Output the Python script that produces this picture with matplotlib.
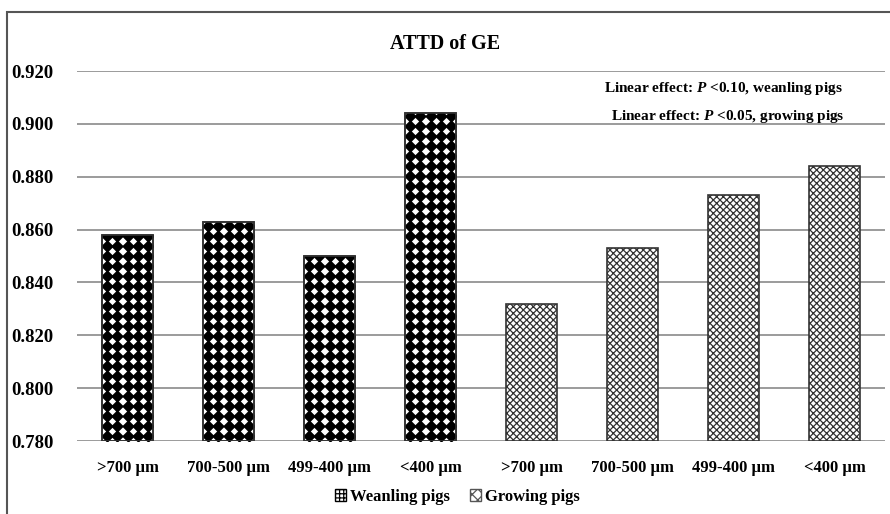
import numpy as np
import matplotlib
matplotlib.use("Agg")
import matplotlib.pyplot as plt
from matplotlib.patches import Rectangle, Patch

plt.rcParams['font.family'] = ['Liberation Serif', 'DejaVu Serif']
plt.rcParams['font.weight'] = 'bold'
plt.rcParams['mathtext.fontset'] = 'custom'
plt.rcParams['mathtext.it'] = 'Liberation Serif:italic:bold'
plt.rcParams['mathtext.rm'] = 'Liberation Serif:bold'
plt.rcParams['hatch.color'] = '#555555'
plt.rcParams['hatch.linewidth'] = 0.9

sizes = [">700 \u00b5m", "700-500 \u00b5m", "499-400 \u00b5m", "<400 \u00b5m"]
weanling = [0.858, 0.863, 0.850, 0.904]
growing = [0.832, 0.853, 0.873, 0.884]
yticks = [0.780, 0.800, 0.820, 0.840, 0.860, 0.880, 0.900, 0.920]

fig = plt.figure(figsize=(8.9, 5.14), dpi=100)
ax = fig.add_axes([77/890, 1-441/514, 808/890, 370/514])

labels = sizes + sizes
x = np.arange(len(labels))
w = 0.5
ymin, ymax = 0.78, 0.92

for yt in yticks:
    ax.axhline(yt, color='#8a8a8a', lw=1.2, zorder=0)

# weanling bars with diamond texture
wb = ax.bar(x[:4], np.array(weanling) - ymin, w, bottom=ymin, color='white',
            edgecolor='#333333', lw=1.2, zorder=2)
dx = w / 5
dy = 10 / 2643.0
for rect in wb:
    x0 = rect.get_x()
    top = rect.get_y() + rect.get_height()
    xs = x0 + dx * (np.arange(5) + 0.5)
    ys = np.arange(ymin + dy / 2, top + dy, dy)
    gx, gy = np.meshgrid(xs, ys)
    sc = ax.scatter(gx.ravel(), gy.ravel(), marker='D', s=42, color='black',
                    lw=0, zorder=3)
    sc.set_clip_path(rect)
    ax.add_patch(Rectangle((rect.get_x(), rect.get_y()), rect.get_width(), rect.get_height(),
                           fill=False, edgecolor='#333333', lw=1.2, zorder=4))

ax.bar(x[4:], np.array(growing) - ymin, w, bottom=ymin, color='white',
       edgecolor='#333333', hatch='xxxxx', lw=1.2, zorder=2)

ax.set_xlim(-0.5, len(labels) - 0.5)
ax.set_ylim(ymin, ymax)
ax.set_yticks(yticks)
ax.set_yticklabels(["%.3f" % v for v in yticks], fontsize=13.5, fontweight='bold')
ax.set_xticks(x)
ax.set_xticklabels(labels, fontsize=12, fontweight='bold')
ax.tick_params(axis='x', length=0, pad=14)
ax.tick_params(axis='y', length=0, pad=17)
for s in ax.spines.values():
    s.set_visible(False)

fig.text(0.5, 1 - 44/514, "ATTD of GE", ha='center', va='center', fontsize=14.5, fontweight='bold')
ax.text(0.948, 0.954, r"Linear effect: $\mathit{P}$ <0.10, weanling pigs", transform=ax.transAxes,
        ha='right', va='center', fontsize=11, fontweight='bold')
ax.text(0.95, 0.876, r"Linear effect: $\mathit{P}$ <0.05, growing pigs", transform=ax.transAxes,
        ha='right', va='center', fontsize=11, fontweight='bold')

handles = [Patch(facecolor='white', edgecolor='black', hatch='++++', label='Weanling pigs'),
           Patch(facecolor='white', edgecolor='#555555', hatch='xxx', label='Growing pigs')]
fig.legend(handles=handles, loc='center', bbox_to_anchor=(457/890, 1 - 497/514), ncol=2,
           frameon=False, handlelength=0.7, handleheight=0.7,
           handletextpad=0.2, columnspacing=1.2, prop={'weight': 'bold', 'size': 12})

fig.patches.append(Rectangle((7/890, -0.05), 1.2, 1 - 12/514 + 0.05, transform=fig.transFigure,
                             fill=False, edgecolor='#555555', lw=1.5))

fig.savefig("out.png", dpi=100)
